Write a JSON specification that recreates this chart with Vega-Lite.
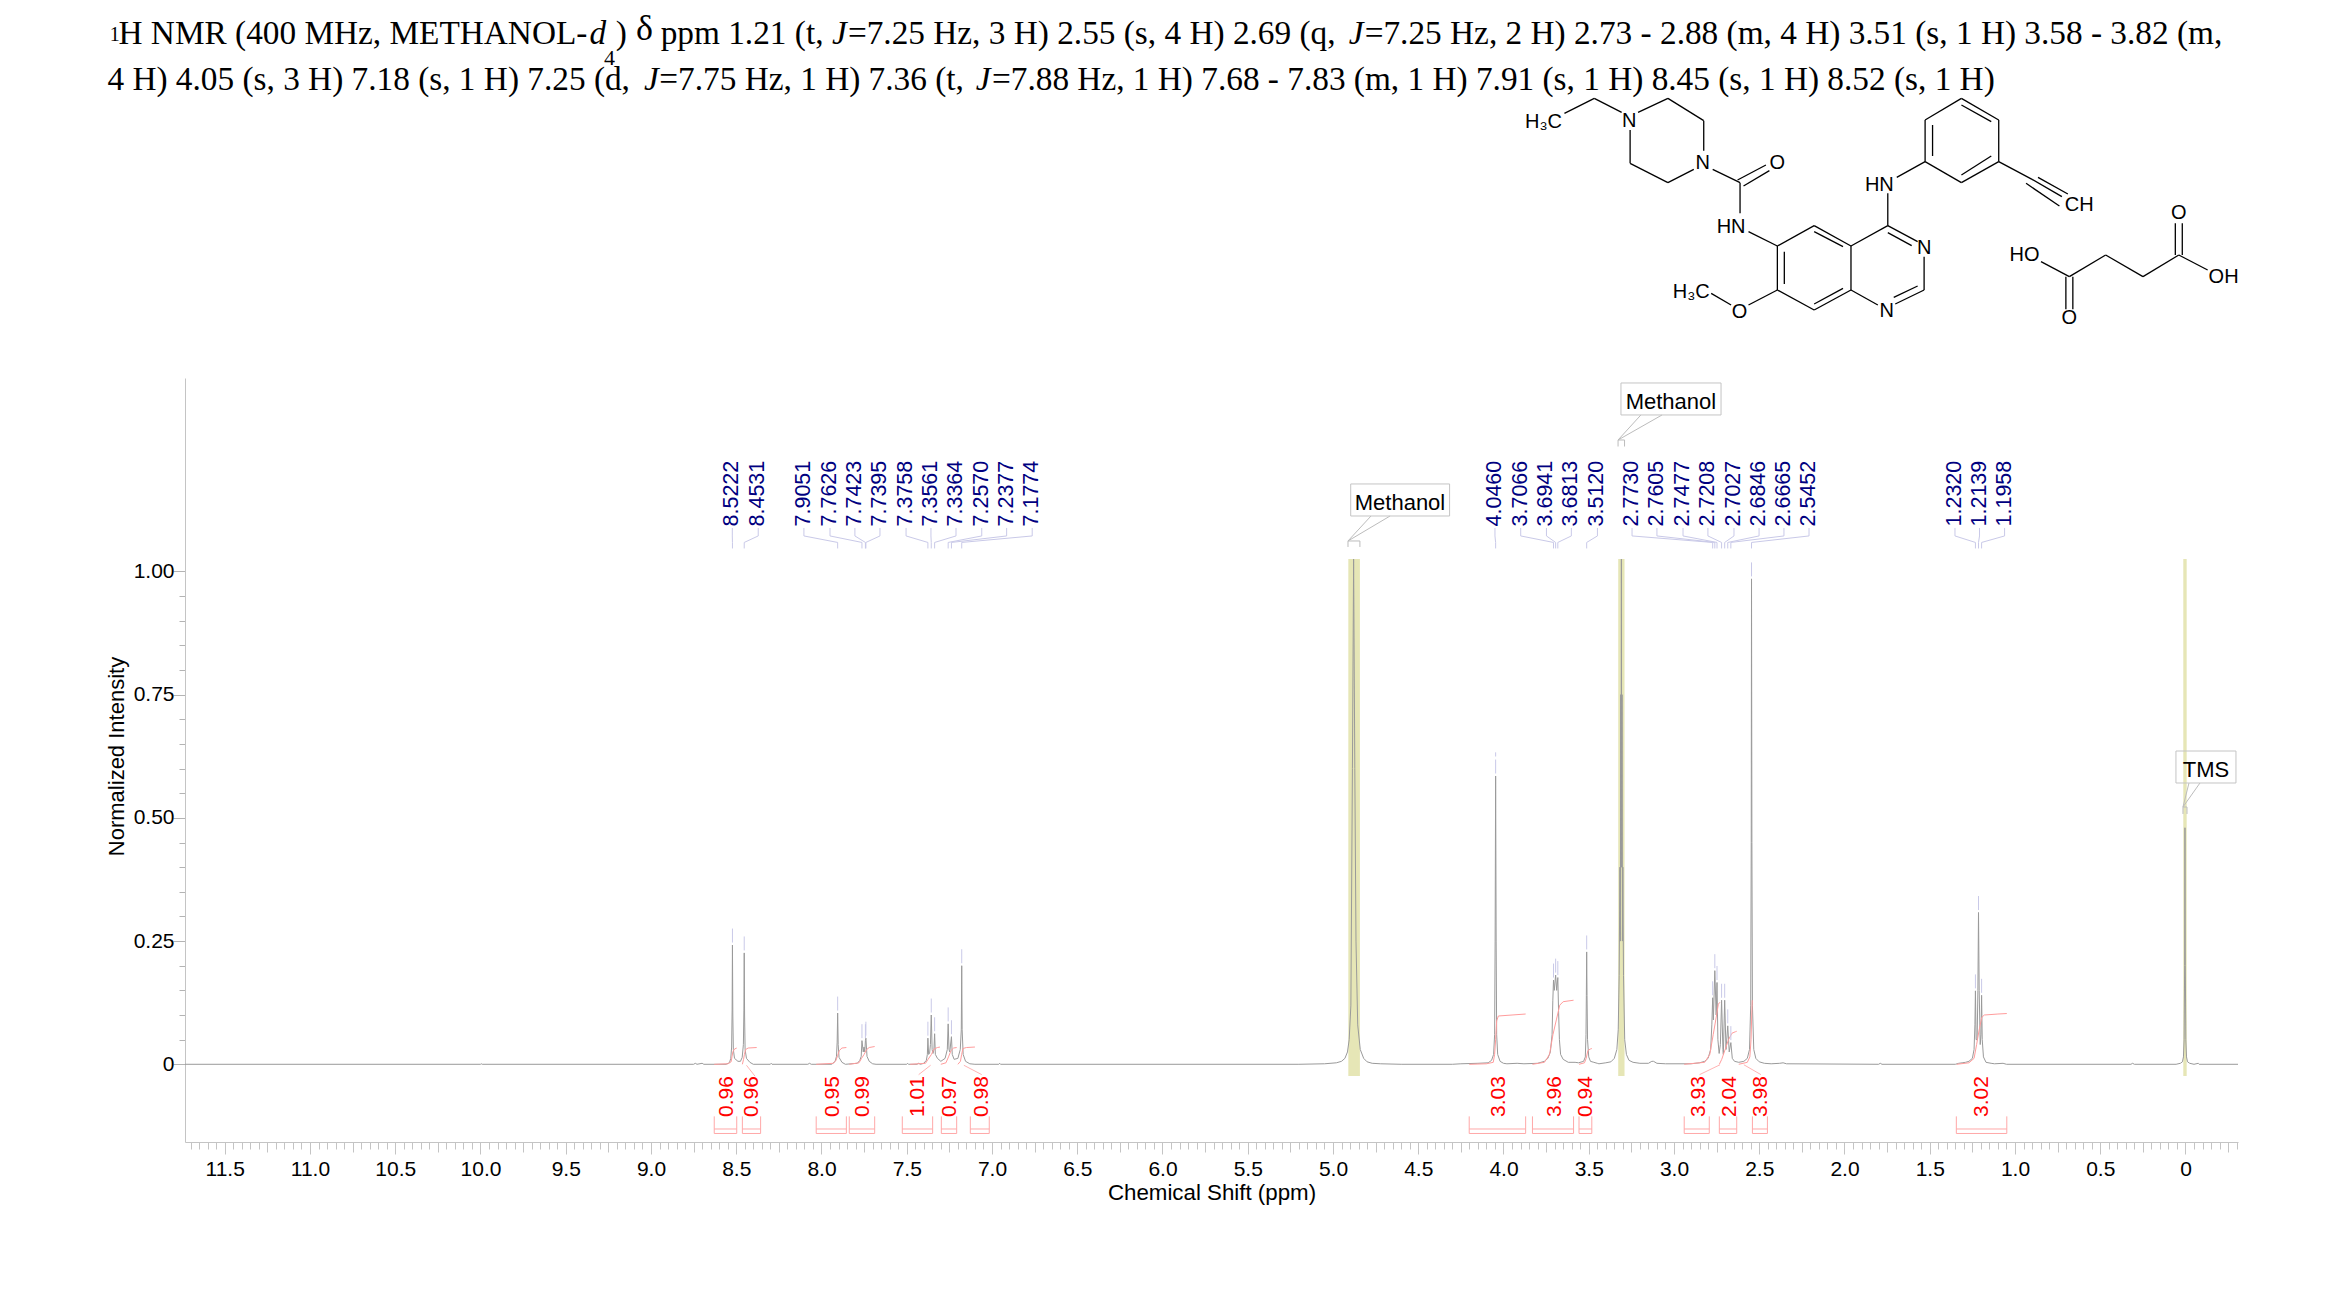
{
"$schema":"https://vega.github.io/schema/vega-lite/v6.json",
"width":2053,"height":764,
"padding":{"left":185,"top":378,"right":101,"bottom":165},
"autosize":{"type":"none"},
"background":"white",
"view":{"stroke":null},
"config":{"view":{"stroke":null},"text":{"font":"Liberation Sans"}},
"datasets":{
"bands":[{"x":4.91,"x2":4.842,"y":1.0253,"y2":-0.0237},{"x":3.327,"x2":3.29,"y":1.0253,"y2":-0.0237},{"x":0.0129,"x2":-0.007,"y":1.0253,"y2":-0.0237}],
"spectrum":[{"x":11.733,"y":0},{"x":10.0,"y":0},{"x":9.995,"y":0.001},{"x":9.99,"y":0},{"x":8.75,"y":0},{"x":8.74,"y":0.002},{"x":8.73,"y":0},{"x":8.7,"y":0.002},{"x":8.69,"y":0},{"x":8.56,"y":0},{"x":8.54,"y":0.003},{"x":8.532,"y":0.012},{"x":8.527,"y":0.035},{"x":8.524,"y":0.11},{"x":8.5222,"y":0.242},{"x":8.52,"y":0.1},{"x":8.517,"y":0.03},{"x":8.51,"y":0.012},{"x":8.49,"y":0.006},{"x":8.475,"y":0.006},{"x":8.465,"y":0.014},{"x":8.458,"y":0.04},{"x":8.455,"y":0.11},{"x":8.4531,"y":0.226},{"x":8.451,"y":0.1},{"x":8.448,"y":0.03},{"x":8.44,"y":0.012},{"x":8.42,"y":0.004},{"x":8.4,"y":0},{"x":8.3,"y":0},{"x":8.295,"y":0.002},{"x":8.29,"y":0},{"x":8.08,"y":0},{"x":8.07,"y":0.002},{"x":8.06,"y":0},{"x":7.94,"y":0},{"x":7.92,"y":0.006},{"x":7.912,"y":0.016},{"x":7.908,"y":0.045},{"x":7.9051,"y":0.104},{"x":7.902,"y":0.04},{"x":7.897,"y":0.014},{"x":7.88,"y":0.004},{"x":7.86,"y":0},{"x":7.79,"y":0.002},{"x":7.775,"y":0.008},{"x":7.767,"y":0.016},{"x":7.7626,"y":0.048},{"x":7.755,"y":0.025},{"x":7.7505,"y":0.035},{"x":7.746,"y":0.025},{"x":7.7423,"y":0.048},{"x":7.7395,"y":0.053},{"x":7.733,"y":0.016},{"x":7.72,"y":0.006},{"x":7.7,"y":0.001},{"x":7.68,"y":0},{"x":7.5,"y":0},{"x":7.495,"y":0.002},{"x":7.49,"y":0},{"x":7.44,"y":0},{"x":7.43,"y":0.002},{"x":7.42,"y":0},{"x":7.4,"y":0.002},{"x":7.385,"y":0.008},{"x":7.379,"y":0.02},{"x":7.3758,"y":0.053},{"x":7.3715,"y":0.02},{"x":7.366,"y":0.022},{"x":7.361,"y":0.04},{"x":7.3561,"y":0.1},{"x":7.351,"y":0.03},{"x":7.346,"y":0.022},{"x":7.3405,"y":0.03},{"x":7.3364,"y":0.062},{"x":7.332,"y":0.02},{"x":7.32,"y":0.012},{"x":7.3,"y":0.006},{"x":7.275,"y":0.012},{"x":7.262,"y":0.03},{"x":7.257,"y":0.082},{"x":7.252,"y":0.03},{"x":7.2475,"y":0.025},{"x":7.2377,"y":0.056},{"x":7.233,"y":0.02},{"x":7.222,"y":0.01},{"x":7.2,"y":0.012},{"x":7.186,"y":0.03},{"x":7.18,"y":0.07},{"x":7.1774,"y":0.2},{"x":7.175,"y":0.07},{"x":7.169,"y":0.02},{"x":7.155,"y":0.006},{"x":7.13,"y":0.001},{"x":7.1,"y":0},{"x":6.96,"y":0},{"x":6.955,"y":0.002},{"x":6.95,"y":0},{"x":5.2,"y":0},{"x":5.05,"y":0.001},{"x":4.98,"y":0.003},{"x":4.95,"y":0.006},{"x":4.93,"y":0.012},{"x":4.915,"y":0.025},{"x":4.905,"y":0.05},{"x":4.895,"y":0.12},{"x":4.886,"y":0.6},{"x":4.879,"y":1.025},{"x":4.872,"y":0.6},{"x":4.865,"y":0.25},{"x":4.855,"y":0.08},{"x":4.84,"y":0.03},{"x":4.82,"y":0.012},{"x":4.8,"y":0.005},{"x":4.77,"y":0.002},{"x":4.72,"y":0.001},{"x":4.6,"y":0},{"x":4.3,"y":0},{"x":4.25,"y":0.001},{"x":4.15,"y":0.002},{"x":4.09,"y":0.003},{"x":4.07,"y":0.008},{"x":4.058,"y":0.02},{"x":4.052,"y":0.06},{"x":4.049,"y":0.25},{"x":4.046,"y":0.585},{"x":4.043,"y":0.25},{"x":4.04,"y":0.06},{"x":4.034,"y":0.02},{"x":4.02,"y":0.006},{"x":4.0,"y":0.002},{"x":3.98,"y":0.001},{"x":3.92,"y":0.002},{"x":3.88,"y":0.001},{"x":3.8,"y":0.002},{"x":3.76,"y":0.006},{"x":3.74,"y":0.012},{"x":3.725,"y":0.025},{"x":3.715,"y":0.06},{"x":3.7105,"y":0.13},{"x":3.7066,"y":0.171},{"x":3.702,"y":0.15},{"x":3.6941,"y":0.181},{"x":3.688,"y":0.15},{"x":3.6813,"y":0.176},{"x":3.677,"y":0.11},{"x":3.672,"y":0.05},{"x":3.665,"y":0.02},{"x":3.65,"y":0.01},{"x":3.62,"y":0.004},{"x":3.58,"y":0.004},{"x":3.56,"y":0.003},{"x":3.53,"y":0.006},{"x":3.52,"y":0.015},{"x":3.516,"y":0.06},{"x":3.514,"y":0.14},{"x":3.512,"y":0.228},{"x":3.51,"y":0.14},{"x":3.507,"y":0.05},{"x":3.5,"y":0.015},{"x":3.49,"y":0.006},{"x":3.47,"y":0.004},{"x":3.45,"y":0.002},{"x":3.44,"y":0.001},{"x":3.4,"y":0.003},{"x":3.37,"y":0.005},{"x":3.35,"y":0.012},{"x":3.335,"y":0.03},{"x":3.327,"y":0.07},{"x":3.3215,"y":0.18},{"x":3.317,"y":0.4},{"x":3.3145,"y":0.25},{"x":3.3125,"y":0.75},{"x":3.3105,"y":0.4},{"x":3.3085,"y":1.025},{"x":3.3065,"y":0.4},{"x":3.3045,"y":0.75},{"x":3.3025,"y":0.25},{"x":3.3,"y":0.4},{"x":3.296,"y":0.18},{"x":3.289,"y":0.05},{"x":3.279,"y":0.02},{"x":3.264,"y":0.008},{"x":3.24,"y":0.004},{"x":3.2,"y":0.002},{"x":3.15,"y":0.002},{"x":3.13,"y":0.006},{"x":3.12,"y":0.006},{"x":3.1,"y":0.002},{"x":3.05,"y":0.001},{"x":2.9,"y":0.001},{"x":2.85,"y":0.003},{"x":2.82,"y":0.006},{"x":2.8,"y":0.012},{"x":2.785,"y":0.03},{"x":2.778,"y":0.08},{"x":2.773,"y":0.135},{"x":2.769,"y":0.09},{"x":2.7605,"y":0.19},{"x":2.7525,"y":0.1},{"x":2.7477,"y":0.166},{"x":2.7425,"y":0.05},{"x":2.735,"y":0.022},{"x":2.728,"y":0.04},{"x":2.7208,"y":0.13},{"x":2.713,"y":0.03},{"x":2.7105,"y":0.02},{"x":2.7027,"y":0.13},{"x":2.695,"y":0.03},{"x":2.6846,"y":0.078},{"x":2.676,"y":0.025},{"x":2.6665,"y":0.044},{"x":2.658,"y":0.012},{"x":2.645,"y":0.006},{"x":2.62,"y":0.004},{"x":2.59,"y":0.006},{"x":2.57,"y":0.012},{"x":2.557,"y":0.03},{"x":2.55,"y":0.12},{"x":2.547,"y":0.45},{"x":2.5452,"y":0.985},{"x":2.543,"y":0.45},{"x":2.54,"y":0.12},{"x":2.532,"y":0.03},{"x":2.52,"y":0.012},{"x":2.5,"y":0.005},{"x":2.47,"y":0.002},{"x":2.43,"y":0.001},{"x":2.38,"y":0.002},{"x":2.36,"y":0.003},{"x":2.34,"y":0.001},{"x":1.8,"y":0},{"x":1.79,"y":0.002},{"x":1.78,"y":0},{"x":1.35,"y":0},{"x":1.33,"y":0.002},{"x":1.31,"y":0.003},{"x":1.29,"y":0.004},{"x":1.27,"y":0.006},{"x":1.25,"y":0.012},{"x":1.24,"y":0.03},{"x":1.235,"y":0.08},{"x":1.232,"y":0.149},{"x":1.228,"y":0.05},{"x":1.222,"y":0.05},{"x":1.2175,"y":0.15},{"x":1.2139,"y":0.308},{"x":1.21,"y":0.15},{"x":1.204,"y":0.04},{"x":1.199,"y":0.06},{"x":1.1958,"y":0.14},{"x":1.192,"y":0.05},{"x":1.185,"y":0.015},{"x":1.17,"y":0.004},{"x":1.14,"y":0.002},{"x":1.12,"y":0.001},{"x":1.07,"y":0.002},{"x":1.05,"y":0},{"x":0.32,"y":0},{"x":0.31,"y":0.002},{"x":0.3,"y":0},{"x":0.055,"y":0},{"x":0.03,"y":0.002},{"x":0.018,"y":0.005},{"x":0.012,"y":0.015},{"x":0.008,"y":0.05},{"x":0.005,"y":0.2},{"x":0.003,"y":0.48},{"x":0.001,"y":0.2},{"x":-0.002,"y":0.05},{"x":-0.006,"y":0.015},{"x":-0.012,"y":0.005},{"x":-0.025,"y":0.002},{"x":-0.05,"y":0},{"x":-0.075,"y":0.002},{"x":-0.08,"y":0},{"x":-0.308,"y":0}],
"peaks":[
{"x":8.5222,"t":"8.5222","lx":8.523,"t0":0.247,"t1":0.28,"y":1.0913,"ya":1.0883,"yb":1.0721,"yc":1.0589,"yd":1.0467},
{"x":8.4531,"t":"8.4531","lx":8.371,"t0":0.231,"t1":0.264,"y":1.0913,"ya":1.0883,"yb":1.0721,"yc":1.0589,"yd":1.0467},
{"x":7.9051,"t":"7.9051","lx":8.103,"t0":0.109,"t1":0.142,"y":1.0913,"ya":1.0883,"yb":1.0721,"yc":1.0589,"yd":1.0467},
{"x":7.7626,"t":"7.7626","lx":7.95,"t0":0.053,"t1":0.086,"y":1.0913,"ya":1.0883,"yb":1.0721,"yc":1.0589,"yd":1.0467},
{"x":7.7423,"t":"7.7423","lx":7.804,"t0":0.053,"t1":0.086,"y":1.0913,"ya":1.0883,"yb":1.0721,"yc":1.0589,"yd":1.0467},
{"x":7.7395,"t":"7.7395","lx":7.657,"t0":0.058,"t1":0.091,"y":1.0913,"ya":1.0883,"yb":1.0721,"yc":1.0589,"yd":1.0467},
{"x":7.3758,"t":"7.3758","lx":7.504,"t0":0.058,"t1":0.091,"y":1.0913,"ya":1.0883,"yb":1.0721,"yc":1.0589,"yd":1.0467},
{"x":7.3561,"t":"7.3561","lx":7.358,"t0":0.105,"t1":0.138,"y":1.0913,"ya":1.0883,"yb":1.0721,"yc":1.0589,"yd":1.0467},
{"x":7.3364,"t":"7.3364","lx":7.211,"t0":0.067,"t1":0.1,"y":1.0913,"ya":1.0883,"yb":1.0721,"yc":1.0589,"yd":1.0467},
{"x":7.257,"t":"7.2570","lx":7.06,"t0":0.087,"t1":0.12,"y":1.0913,"ya":1.0883,"yb":1.0721,"yc":1.0589,"yd":1.0467},
{"x":7.2377,"t":"7.2377","lx":6.914,"t0":0.061,"t1":0.094,"y":1.0913,"ya":1.0883,"yb":1.0721,"yc":1.0589,"yd":1.0467},
{"x":7.1774,"t":"7.1774","lx":6.764,"t0":0.205,"t1":0.238,"y":1.0913,"ya":1.0883,"yb":1.0721,"yc":1.0589,"yd":1.0467},
{"x":4.046,"t":"4.0460","lx":4.05,"t0":0.59,"t1":0.633,"y":1.0913,"ya":1.0883,"yb":1.0721,"yc":1.0589,"yd":1.0467},
{"x":3.7066,"t":"3.7066","lx":3.899,"t0":0.176,"t1":0.209,"y":1.0913,"ya":1.0883,"yb":1.0721,"yc":1.0589,"yd":1.0467},
{"x":3.6941,"t":"3.6941","lx":3.748,"t0":0.186,"t1":0.219,"y":1.0913,"ya":1.0883,"yb":1.0721,"yc":1.0589,"yd":1.0467},
{"x":3.6813,"t":"3.6813","lx":3.602,"t0":0.181,"t1":0.214,"y":1.0913,"ya":1.0883,"yb":1.0721,"yc":1.0589,"yd":1.0467},
{"x":3.512,"t":"3.5120","lx":3.449,"t0":0.233,"t1":0.266,"y":1.0913,"ya":1.0883,"yb":1.0721,"yc":1.0589,"yd":1.0467},
{"x":2.773,"t":"2.7730","lx":3.246,"t0":0.14,"t1":0.173,"y":1.0913,"ya":1.0883,"yb":1.0721,"yc":1.0589,"yd":1.0467},
{"x":2.7605,"t":"2.7605","lx":3.1,"t0":0.195,"t1":0.228,"y":1.0913,"ya":1.0883,"yb":1.0721,"yc":1.0589,"yd":1.0467},
{"x":2.7477,"t":"2.7477","lx":2.947,"t0":0.171,"t1":0.204,"y":1.0913,"ya":1.0883,"yb":1.0721,"yc":1.0589,"yd":1.0467},
{"x":2.7208,"t":"2.7208","lx":2.801,"t0":0.135,"t1":0.168,"y":1.0913,"ya":1.0883,"yb":1.0721,"yc":1.0589,"yd":1.0467},
{"x":2.7027,"t":"2.7027","lx":2.648,"t0":0.135,"t1":0.168,"y":1.0913,"ya":1.0883,"yb":1.0721,"yc":1.0589,"yd":1.0467},
{"x":2.6846,"t":"2.6846","lx":2.501,"t0":0.083,"t1":0.116,"y":1.0913,"ya":1.0883,"yb":1.0721,"yc":1.0589,"yd":1.0467},
{"x":2.6665,"t":"2.6665","lx":2.355,"t0":0.049,"t1":0.082,"y":1.0913,"ya":1.0883,"yb":1.0721,"yc":1.0589,"yd":1.0467},
{"x":2.5452,"t":"2.5452","lx":2.208,"t0":0.99,"t1":1.024,"y":1.0913,"ya":1.0883,"yb":1.0721,"yc":1.0589,"yd":1.0467},
{"x":1.232,"t":"1.2320","lx":1.352,"t0":0.154,"t1":0.187,"y":1.0913,"ya":1.0883,"yb":1.0721,"yc":1.0589,"yd":1.0467},
{"x":1.2139,"t":"1.2139","lx":1.208,"t0":0.313,"t1":0.346,"y":1.0913,"ya":1.0883,"yb":1.0721,"yc":1.0589,"yd":1.0467},
{"x":1.1958,"t":"1.1958","lx":1.061,"t0":0.145,"t1":0.178,"y":1.0913,"ya":1.0883,"yb":1.0721,"yc":1.0589,"yd":1.0467}],
"integrals":[
{"x":8.629,"x2":8.497,"lx":8.556,"t":"0.96","y":-0.107,"top":-0.1057,"bot":-0.1404,"mid":-0.1313},
{"x":8.464,"x2":8.357,"lx":8.406,"t":"0.96","y":-0.107,"top":-0.1057,"bot":-0.1404,"mid":-0.1313},
{"x":8.031,"x2":7.854,"lx":7.931,"t":"0.95","y":-0.107,"top":-0.1057,"bot":-0.1404,"mid":-0.1313},
{"x":7.837,"x2":7.688,"lx":7.755,"t":"0.99","y":-0.107,"top":-0.1057,"bot":-0.1404,"mid":-0.1313},
{"x":7.526,"x2":7.348,"lx":7.432,"t":"1.01","y":-0.107,"top":-0.1057,"bot":-0.1404,"mid":-0.1313},
{"x":7.297,"x2":7.207,"lx":7.246,"t":"0.97","y":-0.107,"top":-0.1057,"bot":-0.1404,"mid":-0.1313},
{"x":7.127,"x2":7.016,"lx":7.06,"t":"0.98","y":-0.107,"top":-0.1057,"bot":-0.1404,"mid":-0.1313},
{"x":4.201,"x2":3.87,"lx":4.025,"t":"3.03","y":-0.107,"top":-0.1057,"bot":-0.1404,"mid":-0.1313},
{"x":3.83,"x2":3.589,"lx":3.7,"t":"3.96","y":-0.107,"top":-0.1057,"bot":-0.1404,"mid":-0.1313},
{"x":3.557,"x2":3.482,"lx":3.518,"t":"0.94","y":-0.107,"top":-0.1057,"bot":-0.1404,"mid":-0.1313},
{"x":2.94,"x2":2.793,"lx":2.856,"t":"3.93","y":-0.107,"top":-0.1057,"bot":-0.1404,"mid":-0.1313},
{"x":2.734,"x2":2.632,"lx":2.674,"t":"2.04","y":-0.107,"top":-0.1057,"bot":-0.1404,"mid":-0.1313},
{"x":2.54,"x2":2.452,"lx":2.491,"t":"3.98","y":-0.107,"top":-0.1057,"bot":-0.1404,"mid":-0.1313},
{"x":1.344,"x2":1.048,"lx":1.194,"t":"3.02","y":-0.107,"top":-0.1057,"bot":-0.1404,"mid":-0.1313}],
"curves":[
{"g":1,"x":8.629,"y":0},{"g":1,"x":8.55,"y":0.001},{"g":1,"x":8.53,"y":0.005},{"g":1,"x":8.525,"y":0.015},{"g":1,"x":8.52,"y":0.025},{"g":1,"x":8.51,"y":0.031},{"g":1,"x":8.497,"y":0.033},
{"g":2,"x":8.464,"y":0},{"g":2,"x":8.457,"y":0.01},{"g":2,"x":8.452,"y":0.02},{"g":2,"x":8.445,"y":0.03},{"g":2,"x":8.43,"y":0.033},{"g":2,"x":8.38,"y":0.034},
{"g":3,"x":8.031,"y":0},{"g":3,"x":7.93,"y":0.002},{"g":3,"x":7.915,"y":0.008},{"g":3,"x":7.905,"y":0.018},{"g":3,"x":7.895,"y":0.028},{"g":3,"x":7.88,"y":0.033},{"g":3,"x":7.854,"y":0.034},
{"g":4,"x":7.837,"y":0},{"g":4,"x":7.78,"y":0.003},{"g":4,"x":7.765,"y":0.012},{"g":4,"x":7.75,"y":0.02},{"g":4,"x":7.735,"y":0.03},{"g":4,"x":7.72,"y":0.034},{"g":4,"x":7.688,"y":0.036},
{"g":5,"x":7.48,"y":0},{"g":5,"x":7.39,"y":0.002},{"g":5,"x":7.375,"y":0.01},{"g":5,"x":7.355,"y":0.02},{"g":5,"x":7.34,"y":0.031},{"g":5,"x":7.32,"y":0.034},{"g":5,"x":7.305,"y":0.035},
{"g":6,"x":7.3,"y":0},{"g":6,"x":7.27,"y":0.003},{"g":6,"x":7.255,"y":0.015},{"g":6,"x":7.24,"y":0.028},{"g":6,"x":7.225,"y":0.033},{"g":6,"x":7.207,"y":0.034},
{"g":7,"x":7.2,"y":0},{"g":7,"x":7.185,"y":0.006},{"g":7,"x":7.178,"y":0.02},{"g":7,"x":7.17,"y":0.032},{"g":7,"x":7.15,"y":0.034},{"g":7,"x":7.1,"y":0.035},
{"g":8,"x":4.201,"y":0},{"g":8,"x":4.1,"y":0.001},{"g":8,"x":4.06,"y":0.004},{"g":8,"x":4.052,"y":0.02},{"g":8,"x":4.046,"y":0.05},{"g":8,"x":4.04,"y":0.088},{"g":8,"x":4.03,"y":0.098},{"g":8,"x":3.95,"y":0.1},{"g":8,"x":3.87,"y":0.102},
{"g":9,"x":3.83,"y":0},{"g":9,"x":3.76,"y":0.004},{"g":9,"x":3.73,"y":0.02},{"g":9,"x":3.71,"y":0.06},{"g":9,"x":3.69,"y":0.09},{"g":9,"x":3.67,"y":0.12},{"g":9,"x":3.65,"y":0.127},{"g":9,"x":3.589,"y":0.13},
{"g":10,"x":3.557,"y":0},{"g":10,"x":3.525,"y":0.003},{"g":10,"x":3.515,"y":0.012},{"g":10,"x":3.505,"y":0.028},{"g":10,"x":3.49,"y":0.031},{"g":10,"x":3.482,"y":0.032},
{"g":11,"x":2.94,"y":0},{"g":11,"x":2.82,"y":0.004},{"g":11,"x":2.79,"y":0.02},{"g":11,"x":2.77,"y":0.06},{"g":11,"x":2.75,"y":0.1},{"g":11,"x":2.74,"y":0.122},{"g":11,"x":2.73,"y":0.126},
{"g":12,"x":2.734,"y":0},{"g":12,"x":2.72,"y":0.01},{"g":12,"x":2.7,"y":0.03},{"g":12,"x":2.68,"y":0.05},{"g":12,"x":2.66,"y":0.063},{"g":12,"x":2.64,"y":0.066},{"g":12,"x":2.632,"y":0.067},
{"g":13,"x":2.62,"y":0},{"g":13,"x":2.57,"y":0.004},{"g":13,"x":2.555,"y":0.015},{"g":13,"x":2.548,"y":0.05},{"g":13,"x":2.544,"y":0.1},{"g":13,"x":2.541,"y":0.13},
{"g":14,"x":1.342,"y":0},{"g":14,"x":1.27,"y":0.003},{"g":14,"x":1.24,"y":0.012},{"g":14,"x":1.225,"y":0.04},{"g":14,"x":1.21,"y":0.07},{"g":14,"x":1.195,"y":0.095},{"g":14,"x":1.18,"y":0.1},{"g":14,"x":1.1,"y":0.102},{"g":14,"x":1.048,"y":0.103}],
"pinkLeaders":[
{"x":8.44,"y":-0.002,"x2":8.39,"y2":-0.024},
{"x":7.36,"y":-0.002,"x2":7.43,"y2":-0.021},
{"x":7.165,"y":-0.002,"x2":7.06,"y2":-0.021},
{"x":2.73,"y":-0.001,"x2":2.85,"y2":-0.021},
{"x":2.59,"y":-0.001,"x2":2.49,"y2":-0.021}],
"boxes":[
{"x":4.896,"x2":4.316,"y":1.1776,"y2":1.1126,"lx":4.607,"ly":1.1391,"t":"Methanol"},
{"x":3.311,"x2":2.724,"y":1.3825,"y2":1.3176,"lx":3.018,"ly":1.344,"t":"Methanol"},
{"x":0.056,"x2":-0.296,"y":0.6357,"y2":0.5708,"lx":-0.12,"ly":0.5973,"t":"TMS"}],
"callouts":[
{"x":4.912,"y":1.0619,"x2":4.777,"y2":1.1126},{"x":4.912,"y":1.0619,"x2":4.665,"y2":1.1126},
{"x":4.912,"y":1.0619,"x2":4.842,"y2":1.0619},{"x":4.912,"y":1.0619,"x2":4.912,"y2":1.0497},{"x":4.842,"y":1.0619,"x2":4.842,"y2":1.0497},
{"x":3.328,"y":1.2668,"x2":3.194,"y2":1.3176},{"x":3.328,"y":1.2668,"x2":3.07,"y2":1.3176},
{"x":3.328,"y":1.2668,"x2":3.29,"y2":1.2668},{"x":3.328,"y":1.2668,"x2":3.328,"y2":1.2536},{"x":3.29,"y":1.2668,"x2":3.29,"y2":1.2536},
{"x":0.0147,"y":0.5221,"x2":-0.0205,"y2":0.5708},{"x":0.0147,"y":0.5221,"x2":-0.085,"y2":0.5708},
{"x":0.0147,"y":0.5221,"x2":-0.0088,"y2":0.5221},{"x":0.0147,"y":0.5221,"x2":0.0147,"y2":0.5079},{"x":-0.0088,"y":0.5221,"x2":-0.0088,"y2":0.5079}],
"header":[
{"t":"1","x":12.175,"y":2.0755,"s":20},
{"t":"H NMR (400 MHz, METHANOL-","x":12.123,"y":2.0694,"s":33.3},
{"t":"4","x":9.276,"y":2.0285,"s":22},
{"t":")","x":9.207,"y":2.0694,"s":33.3},
{"t":"δ","x":9.088,"y":2.0775,"s":36},
{"t":"ppm 1.21 (t,","x":8.943,"y":2.0694,"s":33.3},
{"t":"=7.25 Hz, 3 H) 2.55 (s, 4 H) 2.69 (q,","x":7.845,"y":2.0694,"s":33.3},
{"t":"=7.25 Hz, 2 H) 2.73 - 2.88 (m, 4 H) 3.51 (s, 1 H) 3.58 - 3.82 (m,","x":4.814,"y":2.0694,"s":33.3},
{"t":"4 H) 4.05 (s, 3 H) 7.18 (s, 1 H) 7.25 (d,","x":12.188,"y":1.976,"s":33.3},
{"t":"=7.75 Hz, 1 H) 7.36 (t,","x":8.951,"y":1.976,"s":33.3},
{"t":"=7.88 Hz, 1 H) 7.68 - 7.83 (m, 1 H) 7.91 (s, 1 H) 8.45 (s, 1 H) 8.52 (s, 1 H)","x":7.0,"y":1.976,"s":33.3}],
"headerItalic":[
{"t":"d","x":9.361,"y":2.0694},
{"t":"J","x":7.938,"y":2.0694},
{"t":"J","x":4.908,"y":2.0694},
{"t":"J","x":9.041,"y":1.976},
{"t":"J","x":7.095,"y":1.976}],
"bonds":[{"a":170,"b":100,"c":230,"d":55},{"a":230,"b":55,"c":285,"d":97},{"a":318,"b":97,"c":378,"d":55},{"a":378,"b":55,"c":450,"d":122},{"a":450,"b":122,"c":450,"d":212},{"a":430,"b":268,"c":378,"d":308},{"a":378,"b":308,"c":302,"d":250},{"a":302,"b":250,"c":302,"d":150},{"a":468,"b":268,"c":523,"d":308},{"a":518,"b":300,"c":575,"d":255},{"a":530,"b":318,"c":582,"d":272},{"a":523,"b":308,"c":523,"d":400},{"a":540,"b":455,"c":598,"d":498},{"a":598,"b":498,"c":672,"d":437},{"a":672,"b":437,"c":746,"d":498},{"a":746,"b":498,"c":746,"d":630},{"a":746,"b":630,"c":672,"d":690},{"a":672,"b":690,"c":598,"d":630},{"a":598,"b":630,"c":598,"d":498},{"a":672,"b":455,"c":730,"d":500},{"a":612,"b":515,"c":612,"d":612},{"a":672,"b":672,"c":730,"d":625},{"a":746,"b":498,"c":820,"d":437},{"a":820,"b":437,"c":880,"d":485},{"a":820,"b":458,"c":868,"d":497},{"a":893,"b":530,"c":893,"d":630},{"a":893,"b":630,"c":835,"d":672},{"a":880,"b":618,"c":832,"d":652},{"a":800,"b":675,"c":746,"d":630},{"a":820,"b":437,"c":820,"d":340},{"a":838,"b":292,"c":895,"d":245},{"a":895,"b":245,"c":895,"d":120},{"a":895,"b":120,"c":968,"d":55},{"a":968,"b":55,"c":1043,"d":120},{"a":1043,"b":120,"c":1043,"d":245},{"a":1043,"b":245,"c":968,"d":308},{"a":968,"b":308,"c":895,"d":245},{"a":910,"b":228,"c":910,"d":135},{"a":968,"b":75,"c":1028,"d":125},{"a":1028,"b":228,"c":968,"d":285},{"a":1043,"b":245,"c":1110,"d":298},{"a":1110,"b":298,"c":1170,"d":350},{"a":1122,"b":292,"c":1182,"d":342},{"a":1098,"b":310,"c":1165,"d":378},{"a":598,"b":630,"c":540,"d":675},{"a":505,"b":675,"c":465,"d":640},{"a":1128,"b":545,"c":1185,"d":590},{"a":1185,"b":590,"c":1258,"d":525},{"a":1258,"b":525,"c":1333,"d":590},{"a":1333,"b":590,"c":1405,"d":525},{"a":1405,"b":525,"c":1463,"d":570},{"a":1398,"b":525,"c":1398,"d":430},{"a":1412,"b":525,"c":1412,"d":430},{"a":1178,"b":590,"c":1178,"d":688},{"a":1192,"b":590,"c":1192,"d":688}],
"atoms":[
{"t":"H₃C","mx":128,"my":125},{"t":"N","mx":300,"my":122},{"t":"N","mx":448,"my":248},{"t":"O","mx":598,"my":250},{"t":"HN","mx":505,"my":440},{"t":"HN","mx":803,"my":315},{"t":"CH","mx":1205,"my":375},{"t":"N","mx":893,"my":505},{"t":"N","mx":818,"my":692},{"t":"H₃C","mx":425,"my":635},{"t":"O","mx":522,"my":695},{"t":"HO","mx":1095,"my":525},{"t":"OH","mx":1495,"my":592},{"t":"O","mx":1405,"my":400},{"t":"O","mx":1185,"my":715}]
},
"layer":[
{
"encoding":{
"x":{"field":"x","type":"quantitative","scale":{"domain":[11.733,-0.308],"nice":false,"zero":false},
"axis":{"title":"Chemical Shift (ppm)","titleFont":"Liberation Sans","titleFontSize":22.3,"titleFontWeight":"normal","titleColor":"#000","titlePadding":2,
"labelFont":"Liberation Sans","labelFontSize":21,"labelColor":"#000","labelOverlap":false,"labelFlush":false,"labelPadding":4,"grid":false,
"domainColor":"#c4c4c4","tickColor":"#c4c4c4","tickCount":240,
"tickSize":{"condition":[{"test":"round(datum.value*100)%50==0","value":12},{"test":"round(datum.value*100)%25==0","value":10}],"value":7},
"labelExpr":"round(datum.value*100)%50==0?(round(datum.value*100)==0?'0':format(datum.value,'.1f')):''"}},
"y":{"field":"y","type":"quantitative","scale":{"domain":[-0.1577,1.3926],"nice":false,"zero":false},
"axis":{"title":"Normalized Intensity","titleFont":"Liberation Sans","titleFontSize":22,"titleFontWeight":"normal","titleColor":"#000","titleX":-57,"titleY":378,
"labelFont":"Liberation Sans","labelFontSize":21,"labelColor":"#000","labelOverlap":false,"labelPadding":-1,"grid":false,
"domainColor":"#c4c4c4","tickColor":"#b4b4b4",
"values":[0,0.05,0.1,0.15,0.2,0.25,0.3,0.35,0.4,0.45,0.5,0.55,0.6,0.65,0.7,0.75,0.8,0.85,0.9,0.95,1],
"tickSize":{"condition":{"test":"round(datum.value*100)%25==0","value":12},"value":6},
"labelExpr":"round(datum.value*100)==0?'0':(round(datum.value*100)%25==0?format(datum.value,'.2f'):'')"}}
},
"layer":[
{"data":{"name":"bands"},"mark":{"type":"rect","fill":"#e6e6b6"},"encoding":{"x2":{"field":"x2"},"y2":{"field":"y2"}}},
{"data":{"name":"spectrum"},"mark":{"type":"line","stroke":"#9a9a9a","strokeWidth":1,"interpolate":"linear"}},
{"data":{"name":"curves"},"mark":{"type":"line","stroke":"#ff9c9c","strokeWidth":1},"encoding":{"detail":{"field":"g"}}},
{"data":{"name":"pinkLeaders"},"mark":{"type":"rule","stroke":"#ffb4b4","strokeWidth":1},"encoding":{"x2":{"field":"x2"},"y2":{"field":"y2"}}},
{"data":{"name":"peaks"},"mark":{"type":"rule","stroke":"#c9c9e8","strokeWidth":1,"strokeDash":[14,3]},"encoding":{"y":{"field":"t0","type":"quantitative"},"y2":{"field":"t1"}}},
{"data":{"name":"peaks"},"mark":{"type":"rule","stroke":"#c9c9e8","strokeWidth":1},"encoding":{"x":{"field":"lx","type":"quantitative"},"x2":{"field":"lx"},"y":{"field":"ya","type":"quantitative"},"y2":{"field":"yb"}}},
{"data":{"name":"peaks"},"mark":{"type":"rule","stroke":"#c9c9e8","strokeWidth":1},"encoding":{"x":{"field":"lx","type":"quantitative"},"x2":{"field":"x"},"y":{"field":"yb","type":"quantitative"},"y2":{"field":"yc"}}},
{"data":{"name":"peaks"},"mark":{"type":"rule","stroke":"#c9c9e8","strokeWidth":1},"encoding":{"x2":{"field":"x"},"y":{"field":"yc","type":"quantitative"},"y2":{"field":"yd"}}},
{"data":{"name":"peaks"},"mark":{"type":"text","angle":270,"align":"left","baseline":"middle","fontSize":21.5,"font":"Liberation Sans","fill":"#000080"},"encoding":{"x":{"field":"lx","type":"quantitative"},"text":{"field":"t"}}},
{"data":{"name":"integrals"},"mark":{"type":"rule","stroke":"#ffa8a8","strokeWidth":1},"encoding":{"x2":{"field":"x"},"y":{"field":"top","type":"quantitative"},"y2":{"field":"bot"}}},
{"data":{"name":"integrals"},"mark":{"type":"rule","stroke":"#ffa8a8","strokeWidth":1},"encoding":{"x":{"field":"x2","type":"quantitative"},"x2":{"field":"x2"},"y":{"field":"top","type":"quantitative"},"y2":{"field":"bot"}}},
{"data":{"name":"integrals"},"mark":{"type":"rule","stroke":"#ffa8a8","strokeWidth":1},"encoding":{"x2":{"field":"x2"},"y":{"field":"bot","type":"quantitative"},"y2":{"field":"bot"}}},
{"data":{"name":"integrals"},"mark":{"type":"rule","stroke":"#ffa8a8","strokeWidth":1},"encoding":{"x2":{"field":"x2"},"y":{"field":"mid","type":"quantitative"},"y2":{"field":"mid"}}},
{"data":{"name":"integrals"},"mark":{"type":"text","angle":270,"align":"left","baseline":"middle","fontSize":21,"font":"Liberation Sans","fill":"#ff0000"},"encoding":{"x":{"field":"lx","type":"quantitative"},"text":{"field":"t"}}},
{"data":{"name":"callouts"},"mark":{"type":"rule","stroke":"#bcbcbc","strokeWidth":1},"encoding":{"x2":{"field":"x2"},"y2":{"field":"y2"}}},
{"data":{"name":"boxes"},"mark":{"type":"rect","fill":null,"fillOpacity":0,"stroke":"#c4c4c4","strokeWidth":1},"encoding":{"x2":{"field":"x2"},"y2":{"field":"y2"}}},
{"data":{"name":"boxes"},"mark":{"type":"text","align":"center","baseline":"middle","fontSize":22,"font":"Liberation Sans","fill":"#000"},"encoding":{"x":{"field":"lx","type":"quantitative"},"y":{"field":"ly","type":"quantitative"},"text":{"field":"t"}}},
{"data":{"name":"header"},"mark":{"type":"text","align":"left","baseline":"alphabetic","font":"Liberation Serif","fill":"#000"},"encoding":{"text":{"field":"t"},"size":{"field":"s","type":"quantitative","scale":null}}},
{"data":{"name":"headerItalic"},"mark":{"type":"text","align":"left","baseline":"alphabetic","font":"Liberation Serif","fontStyle":"italic","fontSize":33.3,"fill":"#000"},"encoding":{"text":{"field":"t"}}}
]
},
{
"layer":[
{"data":{"name":"bonds"},"mark":{"type":"rule","stroke":"#000","strokeWidth":1.3},"encoding":{"x":{"field":"a","type":"quantitative","axis":null,"scale":{"domain":[-2603,1524],"nice":false,"zero":false}},"y":{"field":"b","type":"quantitative","axis":null,"scale":{"domain":[3186,894],"nice":false,"zero":false}},"x2":{"field":"c"},"y2":{"field":"d"}}},
{"data":{"name":"atoms"},"mark":{"type":"text","align":"center","baseline":"middle","fontSize":20,"font":"Liberation Sans","fill":"#000"},"encoding":{"x":{"field":"mx","type":"quantitative","axis":null,"scale":{"domain":[-2603,1524],"nice":false,"zero":false}},"y":{"field":"my","type":"quantitative","axis":null,"scale":{"domain":[3186,894],"nice":false,"zero":false}},"text":{"field":"t"}}}
]
}
],
"resolve":{"scale":{"x":"independent","y":"independent"}}
}
